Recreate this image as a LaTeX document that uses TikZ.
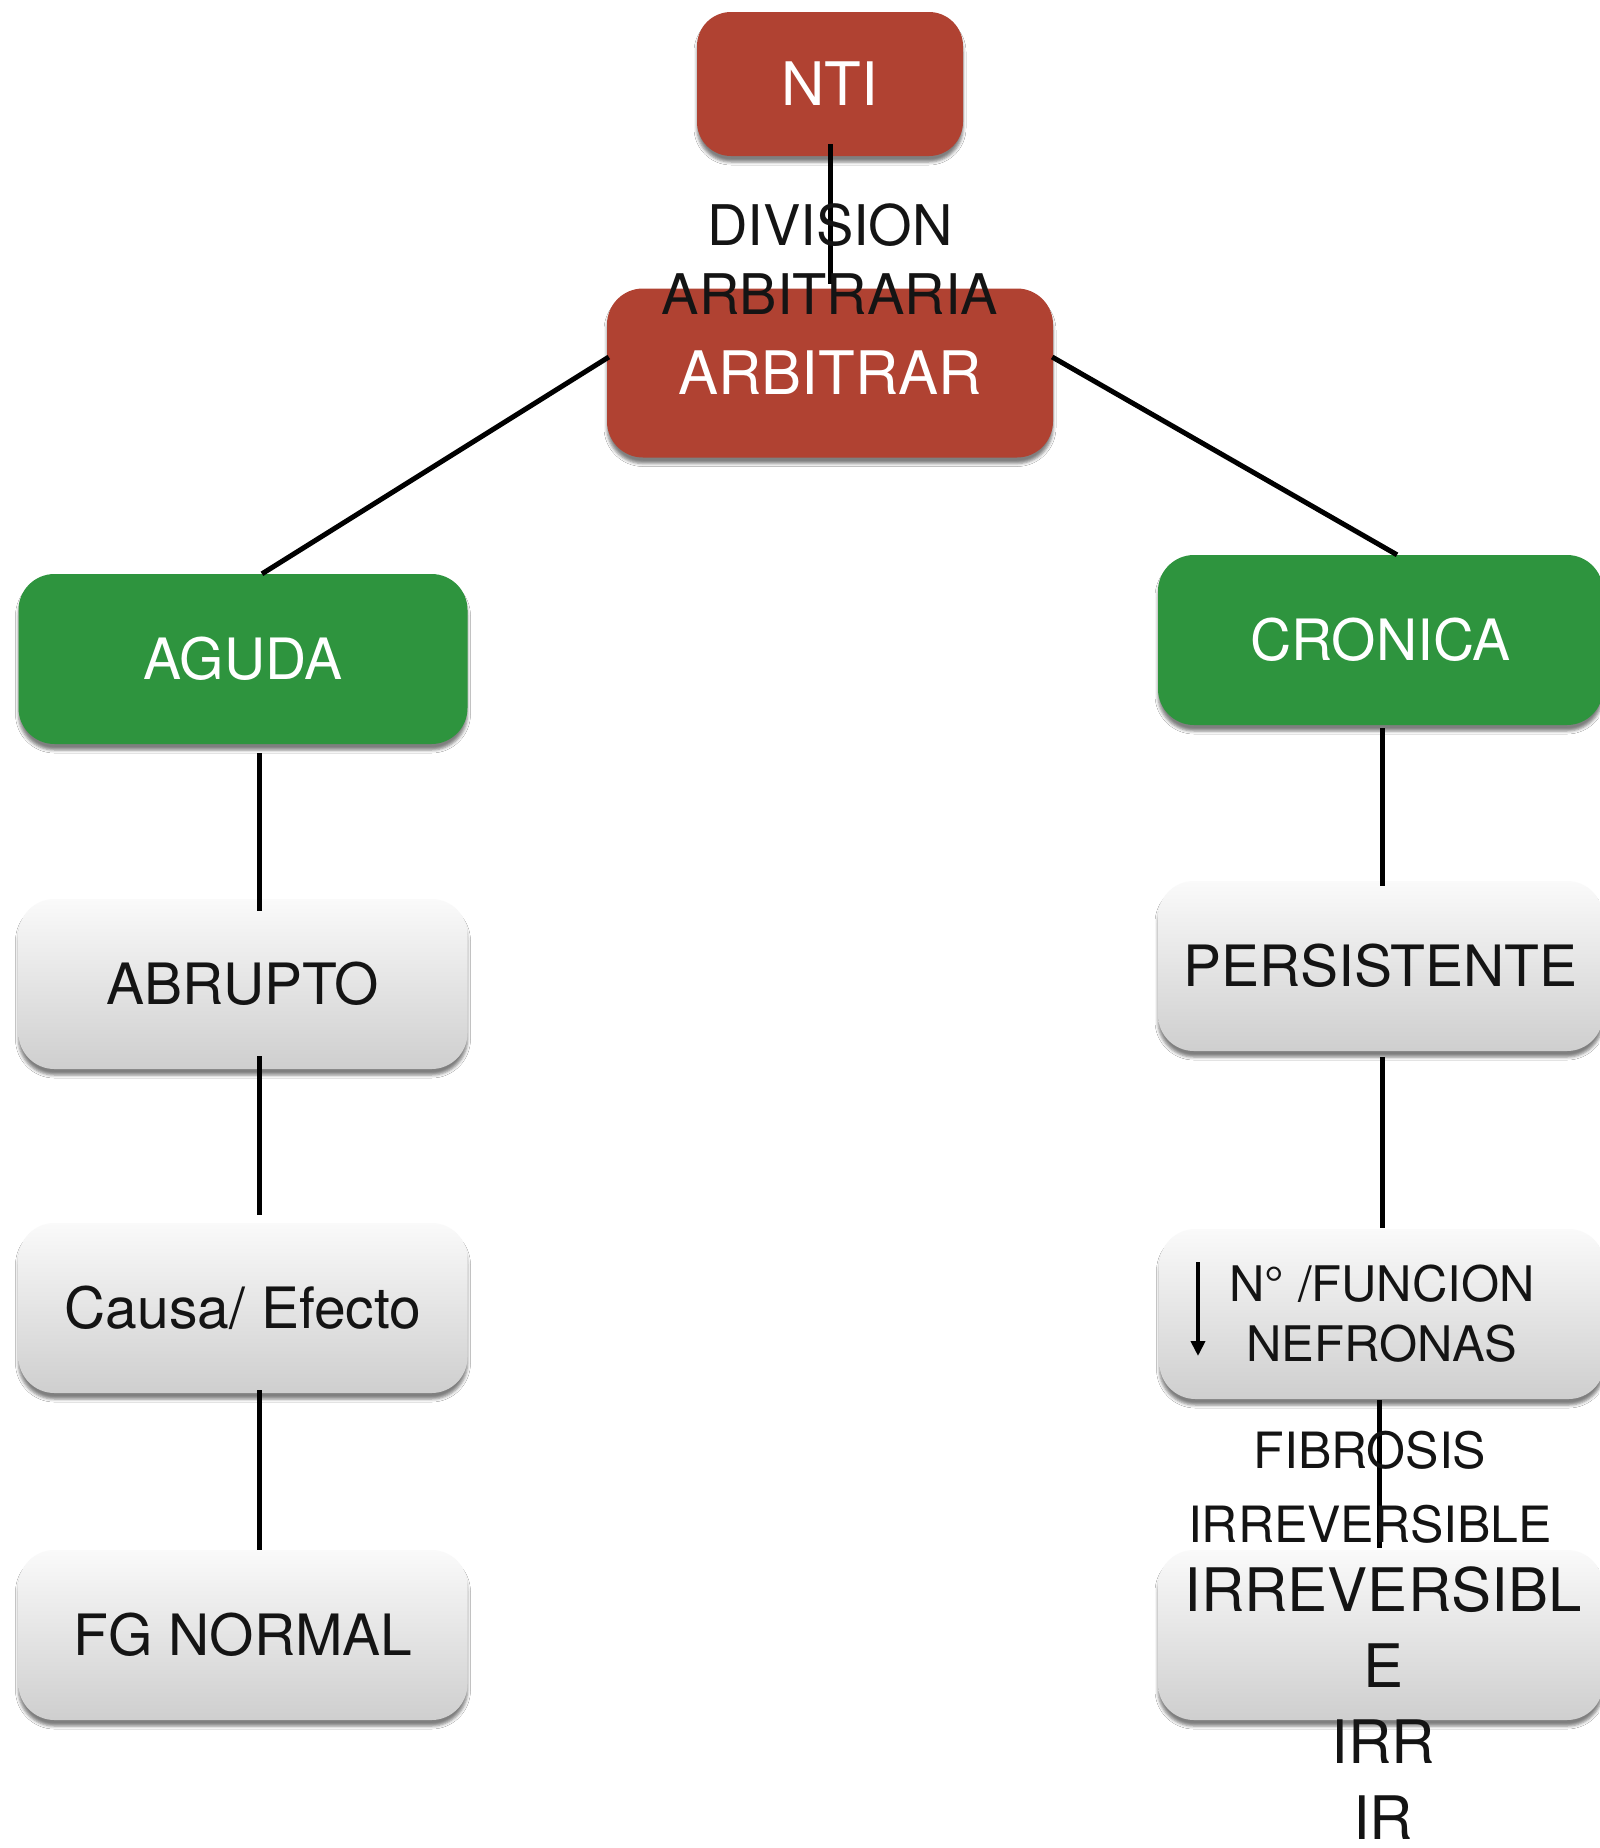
\documentclass[tikz,border=0pt]{standalone}
\usepackage{fontspec}
\setmainfont{TeX Gyre Heros}
\usetikzlibrary{shadows.blur,arrows.meta}

\definecolor{boxred}{RGB}{176,66,50}
\definecolor{boxgreen}{RGB}{46,148,62}
\definecolor{inkblack}{RGB}{20,20,20}

\tikzset{
  base box/.style={rounded corners=36pt, minimum width=449pt, minimum height=170pt,
    inner sep=0pt, align=center,
    blur shadow={shadow xshift=0pt, shadow yshift=-6pt, shadow blur radius=3pt, shadow opacity=50}},
  redbox/.style={base box, fill=boxred, text=white, font=\fontsize{60}{70}\selectfont},
  greenbox/.style={base box, fill=boxgreen, text=white, font=\fontsize{57}{68}\selectfont},
  graybox/.style={base box, top color=black!2, bottom color=black!19, text=inkblack,
    font=\fontsize{57}{68}\selectfont},
  link/.style={line width=5pt, black},
  note/.style={inner sep=0pt, align=center, text=inkblack}
}

\begin{document}
\begin{tikzpicture}[x=1pt, y=-1pt]
  \fill[white] (0,0) rectangle (1599,1848);
  \useasboundingbox (0,0) rectangle (1599,1848);

  % top of the hierarchy
  \node[redbox, minimum width=266pt, minimum height=144pt, rounded corners=34pt] (nti) at (830,84) {NTI};
  \node[redbox, minimum width=446pt, minimum height=169pt] (arb) at (830,373) {ARBITRAR};

  % the two branches
  \node[greenbox] (aguda) at (243,659) {AGUDA};
  \node[greenbox, minimum width=445pt] (cronica) at (1380.5,640) {CRONICA};

  % left column
  \node[graybox] (abrupto) at (243,984) {ABRUPTO};
  \node[graybox] (causa) at (243,1308) {Causa/ Efecto};
  \node[graybox] (fg) at (243,1635) {FG NORMAL};

  % right column
  \node[graybox, minimum width=445pt] (pers) at (1380.5,966) {PERSISTENTE};
  \node[graybox, minimum width=445pt, font=\fontsize{49}{60}\selectfont] (nef) at (1382,1314)
    {N° /FUNCION\\NEFRONAS};
  \node[graybox, minimum width=445pt] (irr) at (1380.5,1635) {};
  \node[note, anchor=north, font=\fontsize{60}{76}\selectfont] (irrtext) at (1383,1566)
    {IRREVERSIBL\\E\\IRR\\IR};

  % down arrow inside the nephron box
  \coordinate (arrtop) at (1198,1262);
  \coordinate (arrbot) at (1198,1356);
  \draw[line width=4pt, -{Triangle[length=15pt, width=14pt]}] (arrtop) -- (arrbot);

  % connectors
  \draw[link] ([yshift=12pt]nti.south) -- ([yshift=4pt]arb.north)
    node[note, pos=0.82, font=\fontsize{56}{69}\selectfont] (divlabel) {DIVISION\\ARBITRARIA};
  \draw[link] ([xshift=2pt, yshift=16pt]arb.west) -- ([xshift=19pt]aguda.north);
  \draw[link] ([xshift=-1pt, yshift=16pt]arb.east) -- ([xshift=16.5pt]cronica.north);

  \draw[link] ([xshift=16pt, yshift=-9pt]aguda.south) -- ([xshift=16pt, yshift=-12pt]abrupto.north);
  \draw[link] ([xshift=16pt, yshift=13pt]abrupto.south) -- ([xshift=16pt, yshift=8pt]causa.north);
  \draw[link] ([xshift=16pt, yshift=3pt]causa.south) -- ([xshift=16pt]fg.north);

  \draw[link] ([xshift=1.5pt, yshift=-3pt]cronica.south) -- ([xshift=1.5pt, yshift=-5pt]pers.north);
  \draw[link] ([xshift=1.5pt, yshift=-6pt]pers.south) -- ([xshift=0pt, yshift=1pt]nef.north);
  \draw[link] ([xshift=-3pt, yshift=-1pt]nef.south) -- ([xshift=-1.5pt, yshift=2pt]irr.north)
    node[note, pos=0.59, xshift=-9pt, font=\fontsize{50}{74}\selectfont] (fiblabel) {FIBROSIS\\IRREVERSIBLE};
\end{tikzpicture}
\end{document}
